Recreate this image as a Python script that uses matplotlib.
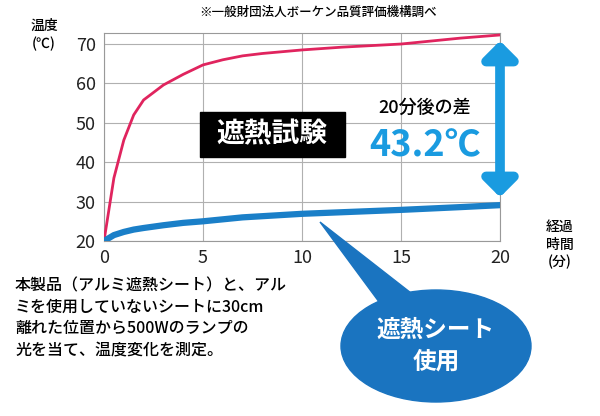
import matplotlib
matplotlib.use("Agg")
import matplotlib.pyplot as plt
from matplotlib.patches import Ellipse, Polygon, FancyArrowPatch, Rectangle

plt.rcParams['font.family'] = ['Noto Sans CJK JP', 'DejaVu Sans']

minutes = [0, 0.5, 1, 1.5, 2, 3, 4, 5, 6, 7, 8, 10, 12, 15, 18, 20]
red_temp = [20, 36, 45.6, 52, 55.8, 59.6, 62.3, 64.7, 66, 67, 67.6, 68.5, 69.2, 70, 71.5, 72.3]
blue_temp = [20, 21.5, 22.3, 22.9, 23.3, 24, 24.6, 25, 25.5, 26, 26.3, 26.9, 27.3, 27.9, 28.6, 29.1]
xticks = [0, 5, 10, 15, 20]
yticks = [20, 30, 40, 50, 60, 70]

fig = plt.figure(figsize=(6, 4.16), dpi=100)
ax = fig.add_axes([104/600, 1-241/416, 396/600, 208/416])
ax.plot(minutes, red_temp, color='#e0245e', lw=2, zorder=3)
ax.plot(minutes, blue_temp, color='#1a7fc8', lw=4.5, zorder=3, solid_capstyle='round')
ax.set_xlim(0, 20)
ax.set_ylim(20, 72.8)
ax.set_xticks(xticks)
ax.set_yticks(yticks)
ax.grid(True, color='#b0b0b0', lw=0.8)
for s in ax.spines.values():
    s.set_color('#999999')
ax.tick_params(length=0, labelsize=13, colors='#222222', pad=6)

ov = fig.add_axes([0, 0, 1, 1], zorder=5)
ov.set_xlim(0, 600); ov.set_ylim(416, 0); ov.axis('off')
ov.patch.set_alpha(0)

ov.text(318, 12, '※一般財団法人ボーケン品質評価機構調べ', ha='center', va='center', fontsize=9, fontweight='medium')
ov.text(44, 35, '温度\n(℃)', ha='center', va='center', fontsize=10, linespacing=1.3, fontweight='medium')
ov.text(560, 245, '経過\n時間\n(分)', ha='center', va='center', fontsize=10, linespacing=1.3, fontweight='medium')
ov.add_patch(Rectangle((200, 112), 145, 45, color='black'))
ov.text(272, 134, '遮熱試験', color='white', fontsize=20, fontweight='bold', ha='center', va='center')
ov.text(425, 108, '20分後の差', fontsize=13, ha='center', va='center', fontweight='medium')
ov.text(425, 146, '43.2℃', fontsize=26, color='#1a9be0', fontweight='bold', ha='center', va='center')
ov.add_patch(FancyArrowPatch((500, 38), (500, 200), arrowstyle='<|-|>,head_length=10,head_width=10',
                             color='#1a9be0', lw=7, mutation_scale=1))
ov.add_patch(Polygon([[320, 222], [385, 310], [420, 300]], color='#1a74c0'))
ov.add_patch(Ellipse((436, 346), 190, 112, color='#1a74c0'))
ov.text(436, 346, '遮熱シート\n使用', color='white', fontsize=17, fontweight='bold',
        ha='center', va='center', linespacing=1.4)
ov.text(15, 318, '本製品（アルミ遮熱シート）と、アル\nミを使用していないシートに30cm\n離れた位置から500Wのランプの\n光を当て、温度変化を測定。',
        fontsize=11.5, ha='left', va='center', linespacing=1.35, fontweight='medium')

fig.savefig('out.png', dpi=100)
